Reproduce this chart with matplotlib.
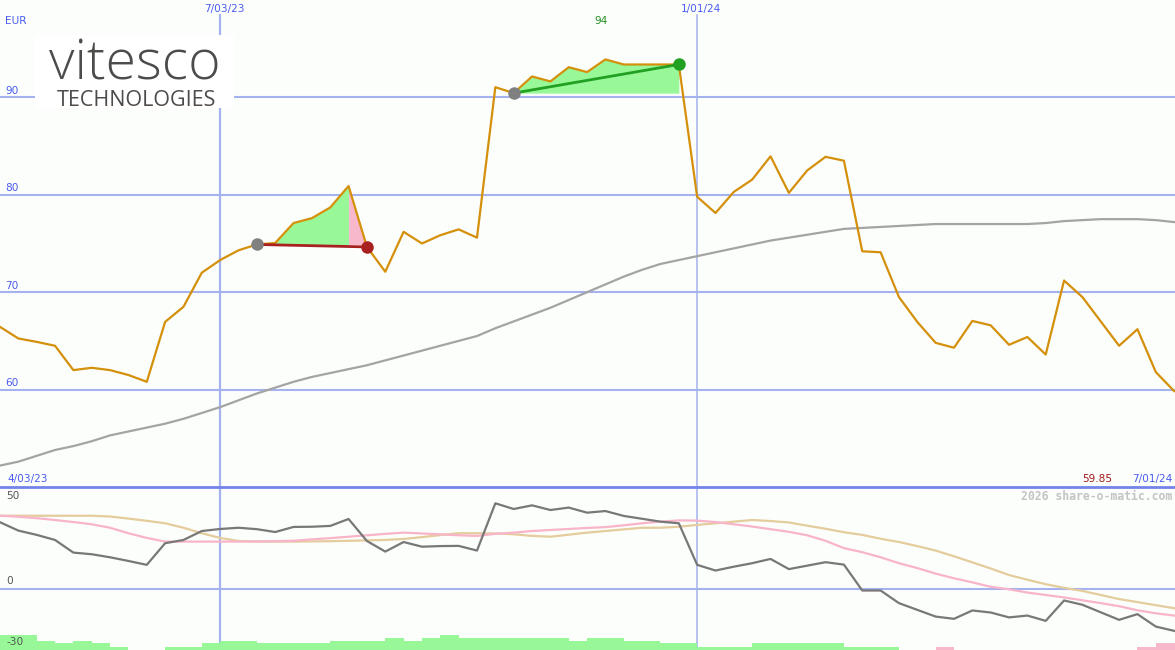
import matplotlib
matplotlib.use("Agg")
import matplotlib.pyplot as plt
import numpy as np
from matplotlib.patches import Rectangle

# ---------------- data ----------------
price = [66.44, 65.25, 64.9, 64.5, 62.0, 62.24, 62.0, 61.5, 60.8, 66.95,
         68.5, 72.0, 73.3, 74.3, 74.9, 75.05, 77.1, 77.6, 78.7, 80.9,
         74.65, 72.1, 76.2, 75.0, 75.85, 76.45, 75.6, 91.05, 90.44, 92.15,
         91.64, 93.1, 92.6, 93.9, 93.38, 93.38, 93.38, 93.38, 79.8, 78.13,
         80.3, 81.56, 83.95, 80.2, 82.5, 83.9, 83.5, 74.2, 74.1, 69.5,
         66.95, 64.8, 64.3, 67.05, 66.6, 64.6, 65.4, 63.6, 71.2, 69.5,
         67.0, 64.5, 66.2, 61.8, 59.85]

ma_long = [52.2, 52.6, 53.2, 53.8, 54.2, 54.7, 55.3, 55.7, 56.1, 56.5,
           57.0, 57.6, 58.2, 58.9, 59.6, 60.2, 60.8, 61.3, 61.7, 62.1,
           62.5, 63.0, 63.5, 64.0, 64.5, 65.0, 65.5, 66.3, 67.0, 67.7,
           68.4, 69.2, 70.0, 70.8, 71.6, 72.3, 72.9, 73.3, 73.7, 74.1,
           74.5, 74.9, 75.3, 75.6, 75.9, 76.2, 76.5, 76.6, 76.7, 76.8,
           76.9, 77.0, 77.0, 77.0, 77.0, 77.0, 77.0, 77.1, 77.3, 77.4,
           77.5, 77.5, 77.5, 77.4, 77.2]

osc = [32.7, 28.6, 26.5, 24.0, 17.8, 17.0, 15.5, 13.7, 11.8, 22.4,
       24.0, 28.4, 29.4, 30.0, 29.3, 27.9, 30.4, 30.5, 30.9, 34.3,
       23.5, 18.3, 23.0, 20.7, 21.0, 21.1, 18.8, 42.0, 39.2, 41.0,
       38.7, 39.9, 37.4, 38.2, 35.8, 34.4, 33.0, 32.2, 11.8, 9.0,
       10.9, 12.6, 14.7, 9.7, 11.4, 13.1, 11.9, -0.8, -0.8, -7.0,
       -10.3, -13.6, -14.7, -10.6, -11.6, -14.0, -13.1, -15.7, -5.7, -7.8,
       -11.5, -15.2, -12.4, -18.5, -20.6]

osc_fast = [35.9, 35.4, 34.7, 33.8, 32.8, 31.7, 30.0, 27.3, 25.0, 23.2,
            23.2, 23.2, 23.2, 23.2, 23.3, 23.4, 23.6, 24.3, 24.9, 25.6,
            26.3, 27.0, 27.6, 27.2, 26.8, 26.3, 26.0, 27.0, 27.6, 28.4,
            28.9, 29.4, 29.9, 30.3, 31.2, 32.2, 33.0, 33.6, 33.5, 32.8,
            31.7, 30.6, 29.3, 28.0, 26.3, 23.6, 20.0, 18.0, 15.5, 12.6,
            10.2, 7.5, 5.2, 3.2, 1.0, -0.2, -1.8, -3.0, -4.2, -5.6,
            -7.0, -8.5, -10.5, -12.0, -13.1]

osc_slow = [35.9, 35.9, 35.9, 35.9, 35.9, 35.9, 35.5, 34.5, 33.4, 32.2,
            30.0, 27.3, 25.0, 23.5, 23.2, 23.2, 23.2, 23.3, 23.4, 23.6,
            23.8, 24.0, 24.5, 25.4, 26.4, 27.3, 27.3, 27.2, 26.8, 26.0,
            25.6, 26.6, 27.6, 28.4, 29.2, 30.0, 30.0, 30.5, 31.4, 32.2,
            33.0, 33.8, 33.3, 32.6, 31.0, 29.5, 27.8, 26.5, 24.6, 23.0,
            21.0, 18.8, 16.0, 13.0, 10.0, 6.8, 4.5, 2.3, 0.5, -1.0,
            -3.0, -5.0, -6.5, -8.0, -9.5]

hist = [7.4, 7.4, 4.4, 3.3, 4.4, 3.3, 1.6, 0, 0, 1.6,
        1.6, 3.3, 4.4, 4.4, 3.3, 3.3, 3.3, 3.3, 4.4, 4.4,
        4.4, 6.0, 4.4, 6.0, 7.4, 6.0, 6.0, 6.0, 6.0, 6.0,
        6.0, 4.4, 6.0, 6.0, 4.4, 4.4, 3.3, 3.3, 1.6, 1.6,
        1.6, 3.3, 3.3, 3.3, 3.3, 3.3, 1.6, 1.6, 1.6, 0,
        0, -1.6, 0, 0, 0, 0, 0, 0, 0, 0,
        0, 0, -1.6, -3.3, -3.3]

main_yticks = [60, 70, 80, 90]
main_ylabels = ["60", "70", "80", "90"]
date_ticks = [12, 38]
date_labels = ["7/03/23", "1/01/24"]
start_label = "4/03/23"
end_label = "7/01/24"
last_label = "59.85"
max_label = "94"
low_ticks = [50, 0, -30]
trade1 = (14, 20)
trade2 = (28, 37)

# ---------------- style ----------------
W, H = 1175, 650
BG = "#fcfefc"
GRID = "#a4b2f0"
SEP = "#7383ea"
LBL = "#4a5cf0"
PRICE = "#d4900a"

fig = plt.figure(figsize=(W / 100, H / 100), dpi=100, facecolor=BG)
x = np.arange(len(price))
XMAX = W / 18.346

split = 487
ax = fig.add_axes([0, (H - split) / H, 1, split / H])
axb = fig.add_axes([0, 0, 1, (H - split) / H])
for a in (ax, axb):
    a.set_facecolor(BG)
    a.set_xlim(0, XMAX)
    for s in a.spines.values():
        s.set_visible(False)
    a.set_xticks([])
    a.set_yticks([])

ax.set_ylim(50, 100)
axb.set_ylim(-30, 50)

# grid
for v in main_yticks:
    ax.axhline(v, color=GRID, lw=1.5, zorder=1)
for i, d in enumerate(date_ticks):
    ax.axvline(d, ymax=(split - 15) / split, color=GRID,
               lw=1.6 if i == 0 else 1.1, zorder=1)
    axb.axvline(d, color=GRID, lw=1.6 if i == 0 else 1.1, zorder=1)
axb.axhline(0, color=GRID, lw=1.5, zorder=1)

# long moving average and price
ax.plot(x, ma_long, color="#a4a4a4", lw=1.6, zorder=3)

# trade annotations
p = np.array(price)
s1, e1 = trade1
pk1 = s1 + int(np.argmax(p[s1:e1 + 1]))
xs = x[s1:pk1 + 1]
ax.fill_between(xs, p[s1], p[s1:pk1 + 1], where=p[s1:pk1 + 1] >= p[s1],
                interpolate=True, color="#98f898", lw=0, zorder=2)
xs = x[pk1:e1 + 1]
ax.fill_between(xs, p[s1], p[pk1:e1 + 1], where=p[pk1:e1 + 1] >= p[s1],
                interpolate=True, color="#f8b8cc", lw=0, zorder=2)
s2, e2 = trade2
xs = x[s2:e2 + 1]
ax.fill_between(xs, p[s2], p[s2:e2 + 1], where=p[s2:e2 + 1] >= p[s2],
                interpolate=True, color="#98f898", lw=0, zorder=2)

ax.plot(x, price, color=PRICE, lw=1.6, zorder=4)

ax.plot([s1, e1], [p[s1], p[e1]], color="#a82020", lw=2, zorder=5)
ax.plot([s2, e2], [p[s2], p[e2]], color="#22a022", lw=2, zorder=5)
ax.plot([s1], [p[s1]], "o", color="#808080", ms=9, mec="none", zorder=6)
ax.plot([e1], [p[e1]], "o", color="#a82020", ms=9, mec="none", zorder=6)
ax.plot([s2], [p[s2]], "o", color="#808080", ms=9, mec="none", zorder=6)
ax.plot([e2], [p[e2]], "o", color="#22a022", ms=9, mec="none", zorder=6)

# lower panel
h = np.array(hist)
cols = ["#98f898" if v >= 0 else "#f8b8cc" for v in h]
axb.bar(x, np.abs(h), bottom=-30, width=1.0, align="edge", color=cols,
        lw=0, zorder=2)
axb.plot(x, osc_slow, color="#e4cc9c", lw=1.6, zorder=3)
axb.plot(x, osc_fast, color="#f8b4c8", lw=1.6, zorder=3)
axb.plot(x, osc, color="#787878", lw=1.6, zorder=4)

# overlay for text in pixel coordinates
ov = fig.add_axes([0, 0, 1, 1])
ov.set_xlim(0, W)
ov.set_ylim(H, 0)
ov.axis("off")
ov.patch.set_alpha(0)

ov.plot([0, W], [split, split], color=SEP, lw=2.0, zorder=5)

fs = 7.6
ov.text(5, 21, "EUR", color=LBL, fontsize=fs, va="center", ha="left")
for v, t in zip(main_yticks, main_ylabels):
    ypix = (100 - v) / 50 * split
    ov.text(5, ypix - 6.5, t, color=LBL, fontsize=fs, va="center", ha="left")
for d, t in zip(date_ticks, date_labels):
    ov.text(d * 18.346 + 4, 9, t, color=LBL, fontsize=fs, va="center", ha="center")
pmax_i = int(np.argmax(p))
ov.text(pmax_i * 18.346 - 4, 21, max_label, color="#229022", fontsize=fs,
        va="center", ha="center")
ov.text(7, 479, start_label, color=LBL, fontsize=fs, va="center", ha="left")
ov.text(1172, 479, end_label, color=LBL, fontsize=fs, va="center", ha="right")
ov.text(1112, 479, last_label, color="#a01c1c", fontsize=fs, va="center", ha="right")
low_ypix = [496, 581.5, 642]
for v, yy in zip(low_ticks, low_ypix):
    ov.text(6, yy, str(v), color="#555555", fontsize=fs, va="center", ha="left")
ov.text(1172, 496, "2026 share-o-matic.com", color="#c4c4c4", fontsize=8.3,
        family="DejaVu Sans Mono", weight="bold", va="center", ha="right")

# logo
ov.add_patch(Rectangle((35, 35), 199, 73, facecolor="white", edgecolor="none", zorder=6))
ov.text(135, 79, "vitesco", color="#4d4c4a", fontsize=40, family="Open Sans",
        weight="light", va="baseline", ha="center", zorder=7)
ov.text(136, 106, "TECHNOLOGIES", color="#4d4c4a", fontsize=15.5,
        family="Open Sans", weight="medium", va="baseline", ha="center", zorder=7)

fig.savefig("out.png", dpi=100, facecolor=BG)
